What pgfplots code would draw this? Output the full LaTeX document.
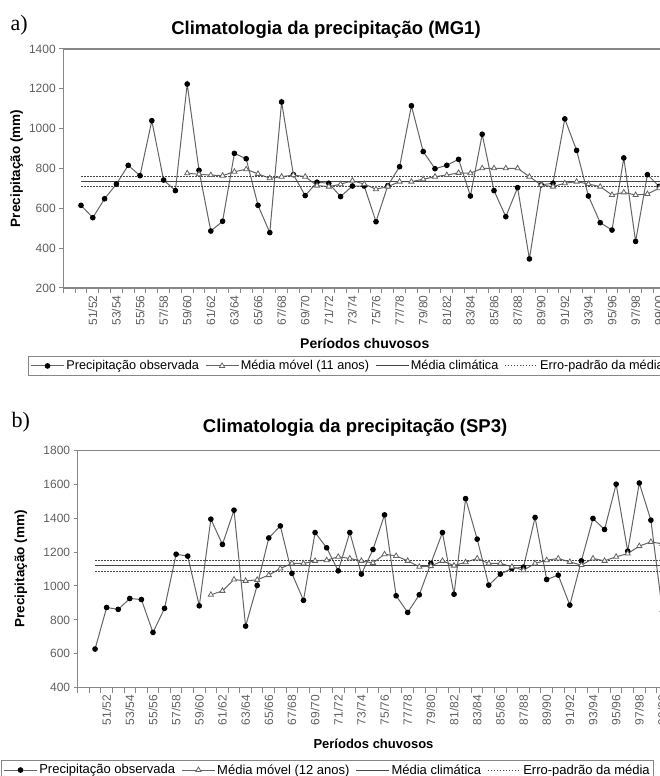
\documentclass[border=0pt]{standalone}
\usepackage{pgfplots}
\pgfplotsset{compat=1.18}
\usepackage{pgfplotstable}
\usepackage{fontspec}
\setmainfont{Liberation Sans}
\newfontfamily\serifff{Liberation Serif}
\definecolor{axgray}{RGB}{135,135,135}
\definecolor{txtgray}{RGB}{95,95,95}
\definecolor{lngray}{RGB}{100,100,100}
\definecolor{dkgray}{RGB}{70,70,70}

\pgfplotstableread{
x obs mm
0 615 nan
1 553 nan
2 648 nan
3 722 nan
4 816 nan
5 764 nan
6 1040 nan
7 742 nan
8 689 nan
9 1224 776
10 791 771
11 486 767
12 535 764
13 876 784
14 849 796
15 615 773
16 478 751
17 1134 759
18 769 767
19 664 759
20 731 714
21 726 709
22 659 721
23 712 739
24 712 722
25 533 696
26 714 709
27 809 734
28 1115 734
29 885 746
30 799 759
31 816 767
32 846 778
33 662 776
34 972 801
35 689 801
36 558 801
37 704 801
38 346 759
39 718 717
40 726 709
41 1049 726
42 891 734
43 662 722
44 528 709
45 491 667
46 853 680
47 434 667
48 769 672
49 710 701
}\dataA

\pgfplotstableread{
x obs mm
0 628 nan
1 873 nan
2 862 nan
3 926 nan
4 920 nan
5 726 nan
6 868 nan
7 1187 nan
8 1176 nan
9 883 nan
10 1394 948
11 1245 971
12 1447 1038
13 763 1030
14 1003 1036
15 1283 1064
16 1354 1103
17 1074 1133
18 915 1133
19 1315 1148
20 1225 1152
21 1089 1172
22 1315 1162
23 1070 1148
24 1215 1136
25 1419 1187
26 942 1177
27 844 1148
28 948 1113
29 1133 1117
30 1315 1148
31 951 1120
32 1515 1140
33 1276 1162
34 1005 1133
35 1070 1133
36 1103 1113
37 1111 1093
38 1404 1133
39 1038 1152
40 1064 1162
41 887 1142
42 1148 1123
43 1398 1162
44 1333 1148
45 1600 1172
46 1205 1191
47 1607 1235
48 1388 1260
49 850 1248
}\dataB

\pgfplotsset{
  clima/.style={
    scale only axis,
    xmin=-1.5, xmax=51.5,
    axis line style={axgray, line width=1.3pt},
    tick pos=left,
    tick align=outside,
    xtick={1,3,...,49},
    xticklabels={51/52,53/54,55/56,57/58,59/60,61/62,63/64,65/66,67/68,69/70,71/72,73/74,75/76,77/78,79/80,81/82,83/84,85/86,87/88,89/90,91/92,93/94,95/96,97/98,99/00},
    major x tick style={draw=none},
    minor xtick={-1.5,-0.5,...,51.5},
    minor tick length=5pt,
    major tick length=4pt,
    minor x tick style={axgray, line width=1pt},
    major y tick style={axgray, line width=1pt},
    xticklabel style={rotate=90, anchor=east, font=\fontsize{12}{14}\selectfont, text=txtgray},
    yticklabel style={font=\fontsize{12}{14}\selectfont, text=txtgray},
    /pgf/number format/assume math mode=true,
    /pgf/number format/1000 sep={},
    legend columns=-1,
    legend image code/.code={\draw[##1, mark repeat=2, mark phase=2] plot coordinates {(0pt,0pt) (16.5pt,0pt) (33pt,0pt)};},
    clip=false,
  },
  obsst/.style={lngray, line width=1pt, mark=*, mark size=2.3pt, mark options={fill=black, draw=black, solid}},
  mmst/.style={lngray, line width=1pt, mark=triangle*, mark size=3pt, mark options={fill=white, draw=lngray, line width=0.8pt, solid}, unbounded coords=jump},
  meanst/.style={dkgray, line width=1pt},
  sest/.style={dkgray, line width=1pt, dash pattern=on 1.5pt off 1.5pt},
}

\begin{document}
\begin{tikzpicture}
\useasboundingbox (0pt,0pt) rectangle (660pt,776pt);
\clip (0pt,0pt) rectangle (660pt,776pt);

\node[anchor=base west, font=\serifff\fontsize{22}{24}\selectfont] at (7pt,745pt) {a)};
\node[anchor=base west, font=\serifff\fontsize{22}{24}\selectfont] at (8pt,348pt) {b)};

% Panel a
\begin{axis}[clima,
  at={(63.3pt,488pt)}, anchor=south west,
  width=625.4pt, height=239pt,
  ymin=200, ymax=1400, ytick={200,400,...,1400},
  title={Climatologia da precipitação (MG1)},
  title style={at={(axis description cs:0.42,1)}, anchor=base, yshift=8.5pt, font=\bfseries\fontsize{18.5}{20}\selectfont},
  xlabel={Períodos chuvosos},
  xlabel style={at={(axis description cs:0.482,0)}, anchor=base, yshift=-61pt, font=\bfseries\fontsize{14}{16}\selectfont},
  ylabel={Precipitação (mm)},
  ylabel style={at={(axis description cs:-0.0745,0.5)}, anchor=center, font=\bfseries\fontsize{13.5}{15}\selectfont},
  legend style={at={(axis description cs:-0.0564,0)}, anchor=north west, yshift=-68pt, draw=axgray, line width=1pt, font=\fontsize{12.7}{14}\selectfont, inner xsep=2pt, inner ysep=2pt, nodes={inner xsep=1.8pt}, /tikz/every even column/.append style={column sep=4.2pt}},
]
\addplot[obsst] table[x=x,y=obs]{\dataA};
\addlegendentry{Precipitação observada}
\addplot[mmst] table[x=x,y=mm]{\dataA};
\addlegendentry{Média móvel (11 anos)}
\addplot[meanst] coordinates {(0,735) (51.5,735)};
\addlegendentry{Média climática}
\addplot[sest] coordinates {(0,761) (51.5,761)};
\addlegendentry{Erro-padrão da média}
\addplot[sest, forget plot] coordinates {(0,709) (51.5,709)};
\end{axis}

% Panel b
\begin{axis}[clima,
  at={(77.7pt,88.3pt)}, anchor=south west,
  width=613.7pt, height=237.4pt,
  ymin=400, ymax=1800, ytick={400,600,...,1800},
  title={Climatologia da precipitação (SP3)},
  title style={at={(axis description cs:0.452,1)}, anchor=base, yshift=11.4pt, font=\bfseries\fontsize{18.5}{20}\selectfont},
  xlabel={Períodos chuvosos},
  xlabel style={at={(axis description cs:0.482,0)}, anchor=base, yshift=-60.3pt, font=\bfseries\fontsize{13}{15}\selectfont},
  ylabel={Precipitação (mm)},
  ylabel style={at={(axis description cs:-0.0924,0.5)}, anchor=center, font=\bfseries\fontsize{13.5}{15}\selectfont},
  legend style={at={(axis description cs:-0.125,0)}, anchor=north west, yshift=-72.3pt, draw=axgray, line width=1pt, font=\fontsize{13}{14}\selectfont, inner xsep=2pt, inner ysep=2pt, nodes={inner xsep=1.8pt}, /tikz/every even column/.append style={column sep=4.5pt}},
]
\addplot[obsst] table[x=x,y=obs]{\dataB};
\addlegendentry{Precipitação observada}
\addplot[mmst] table[x=x,y=mm]{\dataB};
\addlegendentry{Média móvel (12 anos)}
\addplot[meanst] coordinates {(0,1118) (51.5,1118)};
\addlegendentry{Média climática}
\addplot[sest] coordinates {(0,1148) (51.5,1148)};
\addlegendentry{Erro-padrão da média}
\addplot[sest, forget plot] coordinates {(0,1088) (51.5,1088)};
\end{axis}
\end{tikzpicture}
\end{document}
